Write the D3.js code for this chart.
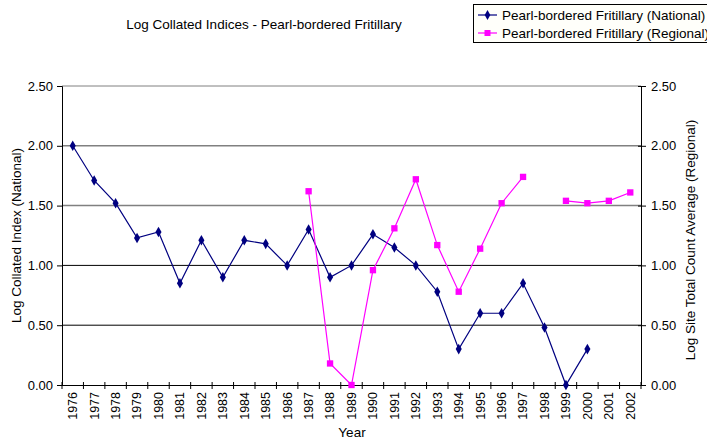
<!DOCTYPE html>
<html><head><meta charset="utf-8">
<script src="https://cdn.jsdelivr.net/npm/d3@7"></script>
<style>body{margin:0;background:#fff;} text{font-family:"Liberation Sans",Arial,sans-serif;}</style>
</head><body>
<svg id="c" width="707" height="439"></svg>
<script>
const years = ["1976","1977","1978","1979","1980","1981","1982","1983","1984","1985","1986","1987","1988","1989","1990","1991","1992","1993","1994","1995","1996","1997","1998","1999","2000","2001","2002"];
const national = [2.00,1.71,1.52,1.23,1.28,0.85,1.21,0.90,1.21,1.18,1.00,1.30,0.90,1.00,1.26,1.15,1.00,0.78,0.30,0.60,0.60,0.85,0.48,0.00,0.30,null,null];
const regional = [null,null,null,null,null,null,null,null,null,null,null,1.62,0.18,0.00,0.96,1.31,1.72,1.17,0.78,1.14,1.52,1.74,null,1.54,1.52,1.54,1.61];
const yTicks = [0,0.5,1.0,1.5,2.0,2.5];
const title = "Log Collated Indices - Pearl-bordered Fritillary";
const seriesNames = ["Pearl-bordered Fritillary (National)","Pearl-bordered Fritillary (Regional)"];
const leftLabel = "Log Collated Index (National)";
const rightLabel = "Log Site Total Count Average (Regional)";
const xLabel = "Year";

const FF = "Liberation Sans, Arial, sans-serif";
const svg = d3.select("#c");
const L=62, R=641, T=86, B=385;
const x = d3.scaleBand().domain(years).range([L,R]);
const y = d3.scaleLinear().domain([0,2.5]).range([B,T]);
const yR = d3.scaleLinear().domain([0,2.5]).range([B,T]);

// gridlines
yTicks.filter(v=>v>0 && v<2.5).forEach(v=>{
  const gray = v>=1.5;
  svg.append("line").attr("x1",L).attr("x2",R).attr("y1",y(v)).attr("y2",y(v))
    .attr("stroke", gray?"#808080":"#000").attr("stroke-width", gray?1.5:1);
});
svg.append("line").attr("x1",L).attr("x2",R).attr("y1",T).attr("y2",T).attr("stroke","#808080").attr("stroke-width",1);

// axes
const fmt = d3.format(".2f");
const gL = svg.append("g").attr("transform",`translate(${L},0)`)
  .call(d3.axisLeft(y).tickValues(yTicks).tickFormat(fmt).tickSize(5).tickPadding(4));
const gR = svg.append("g").attr("transform",`translate(${R},0)`)
  .call(d3.axisRight(yR).tickValues(yTicks).tickFormat(fmt).tickSize(5).tickPadding(5));
gR.selectAll(".tick line").attr("x1",-3);
const xAxis = d3.axisBottom(x).tickSize(0).tickFormat(d=>d);
const gX = svg.append("g").attr("transform",`translate(0,${B})`).call(xAxis);
const bounds = years.map(d=>x(d)).concat([R]);
gX.selectAll(".sep").data(bounds).enter().append("line").attr("class","sep")
  .attr("x1",d=>d).attr("x2",d=>d).attr("y1",-3).attr("y2",4).attr("stroke","#000");
[gL,gR,gX].forEach(g=>{
  g.selectAll(".domain").attr("stroke","#000");
  g.selectAll(".tick line").attr("stroke","#000");
  g.selectAll("text").attr("font-size",13).attr("fill","#000").attr("font-family",FF);
});
gX.selectAll(".tick text").attr("transform","rotate(-90)").attr("text-anchor","end")
  .attr("x",-7).attr("y",0).attr("dy","0.35em").attr("font-size",12.5);
gX.select(".domain").attr("d",`M${L},0.5H${R}`);

// lines
const cx = d=>x(d)+x.bandwidth()/2;
function drawSeries(vals, color, sym, size, scale){
  const pts = years.map((yr,i)=>({yr,v:vals[i]}));
  const line = d3.line().defined(d=>d.v!==null).x(d=>cx(d.yr)).y(d=>scale(d.v));
  svg.append("path").datum(pts).attr("d",line).attr("fill","none").attr("stroke",color).attr("stroke-width",1.2);
  svg.selectAll(null).data(pts.filter(d=>d.v!==null)).enter().append("path")
    .attr("d",d3.symbol().type(sym).size(size)).attr("fill",color)
    .attr("transform",d=>`translate(${cx(d.yr)},${scale(d.v)})`);
}
drawSeries(national,"#000080",d3.symbolDiamond,32,y);
drawSeries(regional,"#FF00FF",d3.symbolSquare,40,yR);

// title
svg.append("text").attr("x",264).attr("y",29).attr("text-anchor","middle").attr("font-size",13.5).attr("font-family",FF).text(title);

// axis labels
svg.append("text").attr("transform",`translate(21,${(T+B)/2}) rotate(-90)`).attr("text-anchor","middle").attr("font-size",13.5).attr("font-family",FF).text(leftLabel);
svg.append("text").attr("transform",`translate(695,240) rotate(-90)`).attr("text-anchor","middle").attr("font-size",13.5).attr("font-family",FF).text(rightLabel);
svg.append("text").attr("x",352).attr("y",437).attr("text-anchor","middle").attr("font-size",13.5).attr("font-family",FF).text(xLabel);

// legend
const lg = svg.append("g");
lg.append("rect").attr("x",473.5).attr("y",4.5).attr("width",260).attr("height",38).attr("fill","#fffffa").attr("stroke","#000");
[["#000080",d3.symbolDiamond,28],["#FF00FF",d3.symbolSquare,36]].forEach((s,i)=>{
  const yy = 15 + i*18;
  lg.append("line").attr("x1",478).attr("x2",497).attr("y1",yy).attr("y2",yy).attr("stroke",s[0]).attr("stroke-width",1.2);
  lg.append("path").attr("d",d3.symbol().type(s[1]).size(s[2])).attr("fill",s[0]).attr("transform",`translate(487.5,${yy})`);
  lg.append("text").attr("x",502).attr("y",yy+5).attr("font-size",13.5).attr("font-family",FF).text(seriesNames[i]);
});
</script>
</body></html>
